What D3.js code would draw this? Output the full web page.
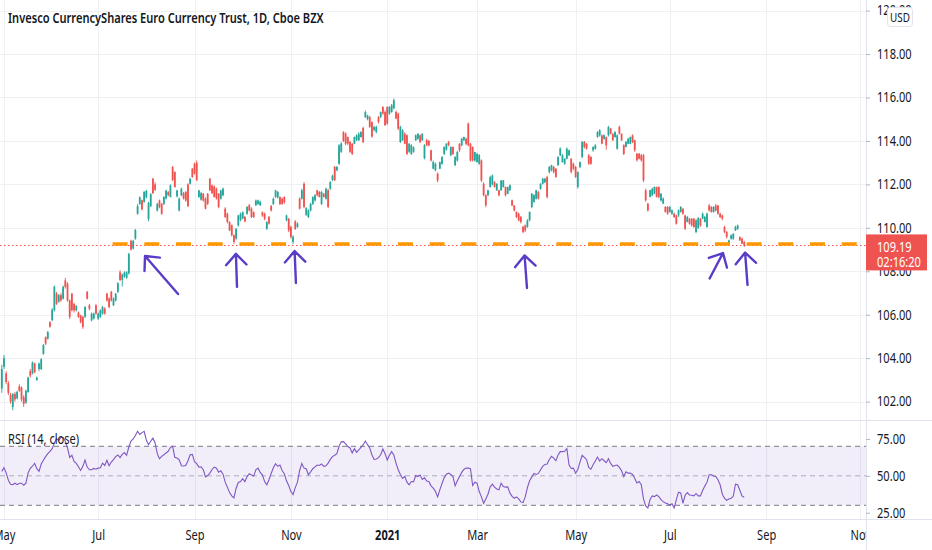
<!DOCTYPE html>
<html>
<head>
<meta charset="utf-8">
<script src="https://cdn.jsdelivr.net/npm/d3@7"></script>
<style>
  html, body { margin: 0; padding: 0; background: #fff; }
  svg { display: block; font-family: "Noto Sans", sans-serif; }
</style>
</head>
<body>
<div id="chart"></div>
<script>
// daily bars, one entry per weekday starting Apr 30 2020
var opens = [
  102.6,103.6,103.3,102.85,102.3,101.75,102.35,102.15,102.7,102.65,
  102.2,101.95,102.45,103.4,103.3,103.75,103.0,103.5,103.5,104.2,
  104.97,104.9,105.65,105.75,106.2,106.97,106.6,106.9,106.74,107.58,
  107.43,106.66,106.97,106.5,106.2,106.1,105.97,105.9,105.9,107.05,
  106.43,105.74,105.82,106.43,105.82,105.9,106.05,106.28,106.97,106.74,
  107.05,106.43,106.66,107.05,107.95,107.6,107.75,107.7,107.9,109.4,
  109.05,109.5,110.65,111.1,111.27,111.2,111.4,110.4,111.0,112.26,
  112.0,110.8,111.26,111.1,111.1,111.35,111.65,111.42,112.8,112.57,
  111.45,110.8,111.5,111.6,111.65,112.0,112.03,112.72,112.95,113.0,
  111.42,111.3,111.57,111.34,111.57,112.26,111.95,111.9,111.8,111.57,
  111.34,111.5,110.88,110.65,110.27,110.12,109.66,109.5,110.12,110.35,
  110.42,110.5,110.65,111.04,110.88,110.72,111.04,111.1,111.04,110.72,
  110.65,109.96,110.5,111.0,111.1,111.42,111.4,111.42,111.34,111.42,
  110.35,110.42,110.04,109.35,110.3,110.04,111.34,111.34,112.03,110.6,
  110.5,110.8,111.1,111.26,111.72,111.65,111.1,111.57,111.34,111.73,
  111.8,112.2,112.8,112.65,112.95,113.5,114.4,114.33,114.18,113.95,
  113.87,113.87,114.03,114.03,114.18,114.6,115.1,115.0,115.1,114.87,
  114.5,114.41,115.1,115.1,115.56,115.33,115.56,115.26,115.33,115.5,
  115.33,115.26,113.95,114.03,114.33,114.26,113.5,113.4,113.5,114.03,
  114.1,114.26,114.03,113.2,114.03,114.0,113.57,112.72,112.65,112.49,
  112.72,112.95,113.4,113.6,113.95,113.34,113.72,112.88,113.1,113.87,
  113.8,114.03,114.1,114.8,113.87,113.72,113.1,113.03,112.95,113.1,
  112.03,111.5,111.5,111.88,112.0,112.1,111.73,111.73,111.73,111.88,
  111.88,111.57,111.73,111.27,111.03,110.73,110.65,110.5,110.04,110.11,
  110.04,110.35,110.96,111.19,111.34,111.65,111.8,112.03,112.1,112.34,
  112.57,112.65,112.8,112.72,112.88,113.34,113.03,112.95,113.18,113.34,
  113.18,112.95,112.8,111.88,112.8,113.26,113.95,113.87,113.34,113.26,
  113.57,113.64,114.18,114.26,114.26,114.1,114.18,114.26,114.57,114.33,
  114.18,113.64,114.64,114.33,113.8,113.72,113.87,113.87,114.26,114.03,
  113.41,113.41,113.34,113.34,111.73,111.11,111.42,111.5,111.57,111.88,
  111.88,111.26,111.11,110.96,110.96,110.73,110.65,110.65,110.57,110.57,
  110.73,110.88,110.57,110.27,110.42,110.42,110.42,109.81,110.0,110.42,
  110.42,110.27,110.04,111.03,110.96,110.73,111.03,111.03,110.65,110.57,
  110.04,109.81,109.27,109.5,109.5,109.88,109.96,109.58,109.5,109.35
];
var highs = [
  103.7,104.15,103.4,102.95,102.4,102.4,102.45,102.5,102.8,102.7,
  102.3,102.55,103.15,103.5,103.85,103.8,103.15,103.8,104.0,104.65,
  105.0,105.25,105.7,106.3,107.35,107.05,106.95,107.0,107.35,107.7,
  107.5,106.7,107.0,106.55,106.45,106.15,106.0,105.95,106.4,107.1,
  106.5,106.1,106.1,106.5,106.1,106.25,106.4,106.35,107.0,106.8,
  107.1,106.8,107.0,107.5,108.05,107.9,108.0,108.0,108.85,109.45,
  109.45,109.95,111.1,111.45,111.3,111.7,111.75,111.2,111.6,112.3,
  112.1,111.15,111.3,111.15,111.45,111.75,111.7,112.0,112.85,112.6,
  111.75,111.4,111.85,111.65,111.7,112.05,112.3,112.75,113.0,113.1,
  111.75,111.65,111.6,111.4,111.6,112.3,112.0,111.95,111.85,111.6,
  111.75,111.85,110.95,110.7,110.3,110.15,109.7,110.0,110.6,110.7,
  110.75,110.55,111.0,111.1,110.95,110.75,111.3,111.3,111.25,110.75,
  110.7,110.3,110.55,111.05,111.4,111.75,111.7,111.45,111.4,111.45,
  110.6,110.45,110.1,109.65,110.35,110.25,111.4,111.8,112.1,110.95,
  110.85,111.15,111.45,111.55,111.75,111.7,111.7,111.6,111.85,111.8,
  112.15,112.45,112.85,112.85,113.85,113.95,114.45,114.4,114.2,114.0,
  113.9,114.2,114.3,114.4,114.45,114.65,115.4,115.2,115.15,114.9,
  114.7,114.7,115.15,115.35,115.6,115.4,115.6,115.6,115.7,115.95,
  115.4,115.3,114.7,114.55,114.4,114.3,113.9,113.85,113.75,114.3,
  114.35,114.3,114.35,113.85,114.1,114.05,113.6,113.1,113.0,112.55,
  113.05,113.3,113.75,113.9,114.0,113.75,113.75,113.3,113.55,113.9,
  114.15,114.2,114.15,114.85,113.9,113.75,113.5,113.45,113.4,113.15,
  112.1,111.55,111.75,112.4,112.45,112.15,112.05,111.75,112.2,112.2,
  111.9,111.9,112.0,111.3,111.05,110.75,110.7,110.55,110.1,110.15,
  110.4,110.75,111.6,111.55,111.75,111.7,112.05,112.3,112.3,112.4,
  112.85,112.9,112.85,112.75,113.3,113.7,113.4,113.2,113.7,113.6,
  113.2,113.0,112.85,112.6,113.05,114.0,114.0,113.9,113.4,113.3,
  113.75,113.85,114.45,114.55,114.3,114.3,114.2,114.7,114.6,114.35,
  114.45,114.3,114.7,114.35,113.85,114.0,114.15,114.2,114.3,114.05,
  113.45,113.45,113.4,113.4,111.8,111.15,111.75,111.85,111.9,111.9,
  111.9,111.6,111.4,111.0,111.0,111.0,110.85,110.7,110.6,110.85,
  111.0,110.9,110.6,110.55,110.45,110.45,110.45,110.4,110.5,110.45,
  110.7,110.55,110.7,111.1,111.0,111.0,111.1,111.05,110.7,110.6,
  110.1,109.85,109.45,109.7,109.75,110.1,110.15,109.6,109.55,109.4
];
var lows = [
  102.4,103.5,102.8,102.3,101.9,101.6,102.0,102.1,102.45,102.0,
  101.75,101.9,102.4,103.1,103.25,103.3,102.95,103.4,103.45,104.15,
  104.6,104.85,105.4,105.7,106.15,106.45,106.55,106.6,106.7,107.2,
  106.6,105.8,106.15,106.1,106.15,105.85,105.6,105.35,105.85,106.7,
  106.2,105.7,105.78,106.0,105.75,105.85,106.0,106.0,106.6,106.3,
  106.6,106.4,106.6,107.0,107.55,107.3,107.7,107.65,107.85,108.95,
  109.0,109.45,110.6,111.05,110.8,111.15,111.35,110.3,110.95,111.55,
  111.7,110.75,110.9,110.6,111.05,111.3,111.45,111.4,112.15,111.85,
  111.4,110.75,111.45,111.3,111.2,110.95,112.0,112.3,112.45,112.15,
  111.38,111.25,111.2,110.85,111.05,111.7,111.55,111.4,111.3,110.9,
  111.3,111.45,110.45,110.2,109.85,109.6,109.25,109.45,110.05,110.3,
  110.4,110.25,110.6,110.75,110.45,110.45,111.0,111.05,111.0,110.5,
  110.35,109.9,110.15,110.75,111.05,111.38,111.35,111.05,111.05,111.1,
  110.3,109.8,109.5,109.25,109.9,110.0,110.85,111.3,110.9,110.55,
  110.45,110.75,111.05,111.2,111.45,111.4,111.05,111.4,111.3,110.9,
  111.75,112.15,112.15,112.6,112.9,113.45,113.95,113.8,113.8,113.45,
  113.35,113.85,114.0,114.0,114.15,113.9,115.05,114.95,114.6,114.15,
  114.45,114.35,114.8,115.05,115.2,114.7,114.75,115.2,115.3,115.45,
  115.0,114.5,113.9,114.0,113.85,113.35,113.45,113.35,113.45,114.0,
  114.05,113.9,114.0,113.15,113.75,113.75,113.05,112.7,112.6,112.1,
  112.7,112.9,113.35,113.55,113.75,113.3,113.35,112.85,113.05,113.5,
  113.75,114.0,113.8,113.75,113.05,113.05,113.05,113.0,112.9,112.1,
  111.45,110.95,111.45,111.85,111.95,111.85,111.7,111.45,111.7,111.85,
  111.45,111.55,111.7,111.0,110.75,110.45,110.3,110.2,109.75,109.8,
  110.0,110.3,110.9,111.15,111.3,111.3,111.75,112.0,112.05,111.35,
  112.5,112.6,112.5,112.3,112.85,113.3,113.0,112.9,113.15,113.3,
  112.5,112.65,112.3,111.8,112.75,113.2,113.65,113.6,112.9,112.9,
  113.5,113.6,114.15,114.2,113.85,114.05,113.6,114.2,114.3,114.0,
  114.15,113.6,114.3,114.0,113.35,113.7,113.85,113.85,113.9,113.5,
  113.05,113.15,113.05,112.1,111.2,110.75,111.4,111.45,111.55,111.4,
  111.35,111.2,111.1,110.7,110.6,110.7,110.6,110.45,110.15,110.5,
  110.7,110.6,109.9,110.25,110.15,110.05,110.0,109.75,109.95,110.05,
  110.4,110.25,110.0,110.75,110.7,110.7,110.75,110.6,110.45,110.35,
  109.75,109.5,109.2,109.45,109.45,109.85,109.9,109.4,109.25,109.12
];
var closes = [
  103.5,104.0,102.9,102.4,102.0,102.35,102.1,102.45,102.5,102.1,
  101.9,102.5,103.1,103.2,103.8,103.35,103.1,103.75,103.95,104.6,
  104.67,105.2,105.45,106.23,107.28,106.51,106.9,106.66,107.28,107.28,
  106.66,105.9,106.2,106.2,106.4,105.9,105.66,105.43,106.35,106.74,
  106.28,106.05,106.05,106.05,106.05,106.2,106.35,106.05,106.66,106.35,
  106.66,106.74,106.97,107.45,107.6,107.85,107.95,107.95,108.8,109.0,
  109.4,109.9,111.0,111.4,110.85,111.65,111.7,111.15,111.55,111.6,
  111.75,111.1,110.95,110.65,111.42,111.72,111.5,111.95,112.2,111.88,
  111.72,111.34,111.8,111.35,111.26,111.0,112.26,112.34,112.5,112.2,
  111.72,111.6,111.26,110.88,111.1,111.72,111.6,111.42,111.35,110.96,
  111.72,111.8,110.5,110.27,109.88,109.66,109.35,109.95,110.57,110.65,
  110.72,110.3,110.96,110.8,110.5,110.5,111.26,111.26,111.2,110.57,
  110.42,110.27,110.2,110.8,111.34,111.72,111.65,111.1,111.1,111.18,
  110.57,109.88,109.58,109.6,109.95,110.2,110.88,111.73,110.96,110.9,
  110.8,111.1,111.42,111.5,111.5,111.42,111.65,111.42,111.8,110.96,
  112.1,112.4,112.2,112.8,113.8,113.88,114.0,113.87,113.88,113.5,
  113.4,114.18,114.26,114.33,114.41,113.95,115.33,115.18,114.65,114.2,
  114.64,114.64,114.87,115.33,115.26,114.72,114.8,115.56,115.64,115.87,
  115.03,114.57,114.64,114.49,113.87,113.4,113.87,113.8,113.7,114.26,
  114.33,113.95,114.33,113.8,113.8,113.8,113.1,113.03,112.95,112.18,
  113.03,113.26,113.72,113.87,113.8,113.72,113.4,113.26,113.49,113.57,
  114.1,114.18,113.87,113.8,113.1,113.1,113.49,113.4,113.34,112.18,
  111.5,111.04,111.73,112.33,112.41,111.88,112.03,111.5,112.18,112.18,
  111.5,111.88,111.96,111.03,110.8,110.5,110.34,110.27,109.81,109.88,
  110.34,110.73,111.57,111.5,111.73,111.34,112.03,112.26,112.26,111.42,
  112.8,112.88,112.57,112.34,113.26,113.65,113.34,113.18,113.64,113.57,
  112.57,112.72,112.34,112.57,113.03,113.95,113.72,113.64,112.95,112.95,
  113.72,113.8,114.41,114.49,113.87,114.26,113.8,114.64,114.33,114.03,
  114.41,114.26,114.33,114.03,113.4,113.95,114.1,114.18,113.95,113.57,
  113.11,113.18,113.11,112.18,111.27,110.8,111.73,111.8,111.88,111.42,
  111.42,111.57,111.34,110.73,110.65,110.96,110.8,110.5,110.19,110.8,
  110.96,110.65,109.96,110.5,110.19,110.11,110.04,110.34,110.45,110.11,
  110.65,110.5,110.65,110.8,110.73,110.96,110.8,110.65,110.5,110.42,
  109.81,109.58,109.42,109.65,109.73,110.04,110.11,109.42,109.27,109.19
];
// RSI(14, close)
var rsiValues = [
  53,55.5,52,47,44.3,44,45,44,45,45,
  43.6,45,52,55,56.5,58.5,54.8,53,58,60.5,
  63,65,66.6,68.4,72.3,75.2,74,76,76,73.4,
  69,62.5,63.9,59.8,58.4,56.1,53.6,56.4,60.7,55.9,
  54.1,54.1,55,54.5,55.2,55.5,58.6,57,60.5,56.8,
  59.3,60.9,63,64.1,62.3,64.5,65.7,63.9,69.5,73.6,
  75,77.3,80.2,78,79.3,80.2,74.3,71.1,73.4,75.5,
  72.3,65,61.6,63.2,64.3,65.5,66.6,69.3,70,62.5,
  62,60.9,56.8,56.6,57,60.2,64.3,64.5,59.5,58.2,
  55.9,56.1,54.1,49.3,50.2,51.8,54.3,55.9,55.2,52.5,
  53.4,51.1,45.7,42.3,38.6,36.4,35,41.6,45.5,46.1,
  48,46,49.5,51.4,50.5,49.8,54.1,55.2,52.3,50.7,
  46.1,43.9,47.3,51.6,55.5,58.2,56.4,57.3,53.6,51.4,
  46.6,43.4,39.3,37.3,42,45.7,53.6,58.4,55.2,54.8,
  50.7,52.7,54.8,56.1,57.3,57,58,56.4,56.8,58.6,
  61.1,63,63.9,65,70,73,73.2,71.6,69.8,68.9,
  65.5,68.4,65.9,67.5,69.3,71.1,73.6,71.1,68.9,64.3,
  61.1,61.4,62.3,64.3,68.2,65,60.7,63.9,66.4,64.1,
  58.6,54.1,50.9,48.2,49.5,45.7,43.9,46.1,45.9,50.2,
  49.5,50.5,47.5,48.6,46.4,46.1,43.2,41.6,39.5,35.7,
  40.5,44.8,48.6,51.1,51.8,50.9,49.5,43.2,46.6,49.5,
  52.3,54.3,55.2,55.2,54.8,43.4,45.7,45,39.3,35.7,
  31.4,34.3,37.5,42.5,44.3,42.3,41.1,40.5,45,42.7,
  42.3,42.5,38.4,36.1,34.8,35.7,34.3,32.3,31.8,35.7,
  42,46.6,49.1,51.6,50.9,51.6,54.1,56.4,57.7,58,
  61.1,63.2,62,60.2,64.1,66.4,66.4,66.6,68.4,57.5,
  55,55.2,51.8,54.1,59.3,63.9,62.5,60.9,55.7,54.5,
  57.5,60,62.7,60,61.6,60.2,58.9,61.6,58.4,56.4,
  57,57.3,55.7,53.4,49.5,52.7,51.8,51.8,50.9,48.4,
  45.2,46.1,43.9,34.3,29.5,28.2,33.9,36.4,35.9,37,
  35.9,33.9,32.5,31.6,31.1,30.2,31.1,28.2,33.9,38.9,
  38.4,31.4,36.8,38.6,37,36.8,36.4,38,36.4,36.4,
  40,43,45.7,50.7,50.7,49.8,49.5,47.3,43.9,37.5,
  34.8,33.4,34.3,34.8,36.1,44.3,43.9,40.2,36.4,35.5
];

var priceTicks = [102, 104, 106, 108, 110, 112, 114, 116, 118, 120];
var rsiTicks = [25, 50, 75];
var monthLabels = ["May", "Jul", "Sep", "Nov", "2021", "Mar", "May", "Jul", "Sep", "Nov"];
var monthBars = [1, 44, 88, 132, 176, 217, 262, 305, 349, 392];
var lastPrice = 109.19;
var countdown = "02:16:20";
var supportPrice = 109.26;
var supportFromBar = 50.6;
// hand drawn arrows: [bar, price] of tip and tail
var arrowTips = [[65.4, 108.70], [106.9, 108.80], [133.7, 108.93], [238.7, 108.73], [329.3, 108.84], [339.4, 108.86]];
var arrowTails = [[80.5, 106.95], [107.4, 107.28], [134.3, 107.46], [239.8, 107.23], [323.2, 107.67], [340.5, 107.37]];

var title = "Invesco CurrencyShares Euro Currency Trust, 1D, Cboe BZX";

// ---- layout
var width = 932, height = 550;
var axisX = 866;
var mainBottom = 420, rsiBottom = 519;
var upColor = "#26a69a", downColor = "#ef5350";
var gridColor = "#eef0f4", borderColor = "#e0e3eb", textColor = "#131722";

var svg = d3.select("#chart").append("svg")
  .attr("width", width)
  .attr("height", height);

var xScale = d3.scaleLinear().domain([0, 392]).range([1.8, 860.3]);
var yScale = d3.scaleLinear().domain([102, 120]).range([401.6, 10.6]);
var rsiScale = d3.scaleLinear().domain([30, 70]).range([505.3, 446.3]);

var defs = svg.append("defs");
defs.append("clipPath").attr("id", "clipMain")
  .append("rect").attr("x", 0).attr("y", 0).attr("width", axisX).attr("height", mainBottom);
defs.append("clipPath").attr("id", "clipRsi")
  .append("rect").attr("x", 0).attr("y", mainBottom + 1).attr("width", axisX).attr("height", rsiBottom - mainBottom - 1);

// grid
var grid = svg.append("g").attr("class", "grid");
grid.selectAll("line.h")
  .data(priceTicks)
  .enter().append("line")
  .attr("class", "h")
  .attr("x1", 0).attr("x2", axisX)
  .attr("y1", function(d) { return Math.round(yScale(d)) + 0.5; })
  .attr("y2", function(d) { return Math.round(yScale(d)) + 0.5; })
  .attr("stroke", gridColor);
grid.selectAll("line.v")
  .data(monthBars)
  .enter().append("line")
  .attr("class", "v")
  .attr("x1", function(d) { return Math.round(xScale(d)) + 0.5; })
  .attr("x2", function(d) { return Math.round(xScale(d)) + 0.5; })
  .attr("y1", 0).attr("y2", rsiBottom)
  .attr("stroke", gridColor);

// candles
var bars = d3.range(closes.length);
var candles = svg.append("g").attr("clip-path", "url(#clipMain)");
candles.selectAll("line.wick")
  .data(bars)
  .enter().append("line")
  .attr("class", "wick")
  .attr("x1", function(i) { return xScale(i); })
  .attr("x2", function(i) { return xScale(i); })
  .attr("y1", function(i) { return yScale(highs[i]); })
  .attr("y2", function(i) { return yScale(lows[i]); })
  .attr("stroke", function(i) { return closes[i] >= opens[i] ? upColor : downColor; })
  .attr("stroke-width", 0.9);
candles.selectAll("rect.body")
  .data(bars)
  .enter().append("rect")
  .attr("class", "body")
  .attr("x", function(i) { return xScale(i) - 0.9; })
  .attr("width", 1.8)
  .attr("y", function(i) { return yScale(Math.max(opens[i], closes[i])); })
  .attr("height", function(i) {
    return Math.max(0.8, Math.abs(yScale(opens[i]) - yScale(closes[i])));
  })
  .attr("fill", function(i) { return closes[i] >= opens[i] ? upColor : downColor; });

// last price line (dotted)
var lpLineY = Math.round(yScale(lastPrice)) + 0.5;
svg.append("line")
  .attr("x1", 0).attr("x2", axisX)
  .attr("y1", lpLineY).attr("y2", lpLineY)
  .attr("stroke", downColor)
  .attr("stroke-width", 1)
  .attr("stroke-dasharray", "1.5,2.5");

// horizontal support drawn on the chart
svg.append("line")
  .attr("x1", xScale(supportFromBar)).attr("x2", axisX)
  .attr("y1", yScale(supportPrice)).attr("y2", yScale(supportPrice))
  .attr("stroke", "#ff9800")
  .attr("stroke-width", 3.5)
  .attr("stroke-dasharray", "15,16.7");

// arrows
var arrowG = svg.append("g")
  .attr("fill", "none")
  .attr("stroke", "#5a3cc8")
  .attr("stroke-width", 2.4)
  .attr("stroke-linecap", "round")
  .attr("stroke-linejoin", "round");
arrowTips.forEach(function(tip, k) {
  var tail = arrowTails[k];
  var tx = xScale(tip[0]), ty = yScale(tip[1]);
  var bx = xScale(tail[0]), by = yScale(tail[1]);
  var a = Math.atan2(by - ty, bx - tx);
  var len = 15, spread = 0.75;
  var p = d3.path();
  p.moveTo(bx, by);
  p.lineTo(tx, ty);
  p.moveTo(tx + len * Math.cos(a - spread), ty + len * Math.sin(a - spread));
  p.lineTo(tx, ty);
  p.lineTo(tx + len * Math.cos(a + spread), ty + len * Math.sin(a + spread));
  arrowG.append("path").attr("d", p.toString());
});

// RSI pane
var rsiG = svg.append("g").attr("clip-path", "url(#clipRsi)");
rsiG.append("rect")
  .attr("x", 0).attr("width", axisX)
  .attr("y", rsiScale(70))
  .attr("height", rsiScale(30) - rsiScale(70))
  .attr("fill", "#7e57c2")
  .attr("fill-opacity", 0.1);
rsiG.selectAll("line.band")
  .data([70, 50, 30])
  .enter().append("line")
  .attr("class", "band")
  .attr("x1", 0).attr("x2", axisX)
  .attr("y1", function(d) { return rsiScale(d); })
  .attr("y2", function(d) { return rsiScale(d); })
  .attr("stroke", function(d) { return d === 50 ? "rgba(120,123,134,0.55)" : "#787b86"; })
  .attr("stroke-width", 1)
  .attr("stroke-dasharray", "5,4");

var rsiLine = d3.line()
  .x(function(d, i) { return xScale(i); })
  .y(function(d) { return rsiScale(d); });
rsiG.append("path")
  .datum(rsiValues)
  .attr("d", rsiLine)
  .attr("fill", "none")
  .attr("stroke", "#7e57c2")
  .attr("stroke-width", 1.1);

// time axis
var timeAxis = svg.append("g")
  .attr("transform", "translate(0," + rsiBottom + ")")
  .call(d3.axisBottom(xScale)
    .tickValues(monthBars)
    .tickSize(0)
    .tickFormat(function(d, i) { return monthLabels[i]; }));
timeAxis.select(".domain").remove();
timeAxis.selectAll("text")
  .attr("y", 21).attr("dy", 0)
  .attr("fill", textColor)
  .style("font-size", "13.5px")
  .style("font-family", "Noto Sans")
  .style("font-weight", function(d, i) { return monthLabels[i] === "2021" ? 700 : 400; })
  .classed("sq", true);

// right scale column
svg.append("rect")
  .attr("x", axisX + 0.5).attr("y", 0)
  .attr("width", width - axisX).attr("height", height)
  .attr("fill", "#fff");

// pane borders
svg.append("line")
  .attr("x1", 0).attr("x2", width)
  .attr("y1", mainBottom + 0.5).attr("y2", mainBottom + 0.5)
  .attr("stroke", borderColor);
svg.append("line")
  .attr("x1", 0).attr("x2", width)
  .attr("y1", rsiBottom + 0.5).attr("y2", rsiBottom + 0.5)
  .attr("stroke", borderColor);
svg.append("line")
  .attr("x1", axisX + 0.5).attr("x2", axisX + 0.5)
  .attr("y1", 0).attr("y2", height)
  .attr("stroke", borderColor);

var priceAxis = svg.append("g")
  .attr("transform", "translate(" + axisX + ",0)")
  .call(d3.axisRight(yScale)
    .tickValues(priceTicks)
    .tickSize(4)
    .tickPadding(7)
    .tickFormat(d3.format(".2f")));
var rsiAxis = svg.append("g")
  .attr("transform", "translate(" + axisX + ",0)")
  .call(d3.axisRight(rsiScale)
    .tickValues(rsiTicks)
    .tickSize(4)
    .tickPadding(7)
    .tickFormat(d3.format(".2f")));
[priceAxis, rsiAxis].forEach(function(ax) {
  ax.select(".domain").remove();
  ax.selectAll(".tick line").attr("stroke", "#b2b5be");
  ax.selectAll("text")
    .attr("fill", textColor)
    .style("font-size", "13.5px")
    .style("font-family", "Noto Sans")
    .classed("sq", true);
});

// currency badge
svg.append("rect")
  .attr("x", 887.5).attr("y", 7.5)
  .attr("width", 25).attr("height", 19)
  .attr("rx", 3)
  .attr("fill", "#fff")
  .attr("stroke", borderColor);
svg.append("text")
  .attr("x", 900).attr("y", 21.5)
  .attr("text-anchor", "middle")
  .attr("fill", textColor)
  .style("font-size", "12px")
  .attr("class", "sq")
  .text("USD");

// last price label
var lpY = yScale(lastPrice);
svg.append("rect")
  .attr("x", axisX).attr("y", lpY - 11)
  .attr("width", 61).attr("height", 36)
  .attr("fill", downColor);
svg.append("text")
  .attr("x", 877).attr("y", lpY + 6.5)
  .attr("fill", "#fff")
  .style("font-size", "13.5px")
  .attr("class", "sq")
  .text(d3.format(".2f")(lastPrice));
svg.append("text")
  .attr("x", 877).attr("y", lpY + 21.5)
  .attr("fill", "#fff")
  .style("font-size", "13.5px")
  .attr("class", "sq")
  .text(countdown);

// pane labels
svg.append("text")
  .attr("x", 8).attr("y", 444)
  .attr("fill", textColor)
  .style("font-size", "13.5px")
  .attr("class", "sq")
  .text("RSI (14, close)");
svg.append("text")
  .attr("x", 8).attr("y", 23)
  .attr("fill", textColor)
  .style("font-size", "13.5px")
  .style("font-weight", 600)
  .attr("class", "sq")
  .text(title);

// the reference screenshot is horizontally squeezed, so narrow every label a bit
svg.selectAll("text.sq").each(function() {
  var w = this.getComputedTextLength();
  d3.select(this)
    .attr("textLength", w * 0.82)
    .attr("lengthAdjust", "spacingAndGlyphs");
});
</script>
</body>
</html>
